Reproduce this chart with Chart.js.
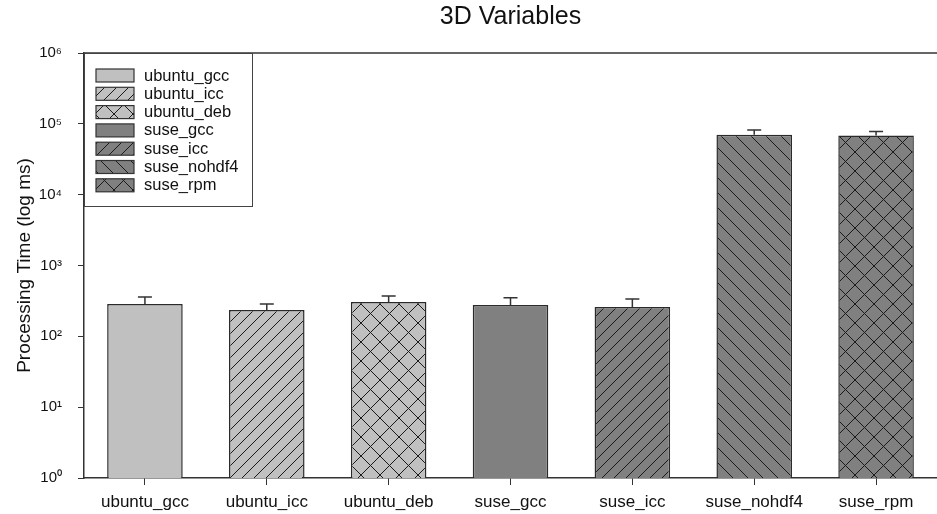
<!DOCTYPE html>
<html>
<head>
<meta charset="utf-8">
<script src="https://cdn.jsdelivr.net/npm/chart.js@4/dist/chart.umd.min.js"></script>
<style>
  html, body { margin: 0; padding: 0; background: #fff; }
  #wrap { width: 937px; height: 514px; }
</style>
</head>
<body>
<div id="wrap"><canvas id="chart"></canvas></div>
<script>
// data
const categories = ['ubuntu_gcc', 'ubuntu_icc', 'ubuntu_deb', 'suse_gcc', 'suse_icc', 'suse_nohdf4', 'suse_rpm'];
const meanTimes = [287, 236, 306, 277, 260, 70000, 68400];
const errorTops = [360, 287, 372, 350, 336, 82000, 77700];
const yTicks = [1, 10, 100, 1000, 10000, 100000, 1000000];
const superscripts = ['⁰', '¹', '²', '³', '⁴', '⁵', '⁶'];

// fill style for each bar: [base colour, hatch kind]
const fills = [
    ['#c0c0c0', 'none'],
    ['#c0c0c0', 'fwd'],
    ['#c0c0c0', 'cross'],
    ['#808080', 'none'],
    ['#808080', 'fwd'],
    ['#808080', 'back'],
    ['#808080', 'cross']
];

function makePattern(color, kind) {
    if (kind === 'none') return color;
    const size = kind === 'cross' ? 19 : (kind === 'back' ? 15 : 12);
    const c = document.createElement('canvas');
    c.width = size;
    c.height = size;
    const g = c.getContext('2d');
    g.fillStyle = color;
    g.fillRect(0, 0, size, size);
    g.strokeStyle = '#1a1a1a';
    g.lineWidth = 1;
    g.beginPath();
    if (kind === 'fwd' || kind === 'cross') {
        g.moveTo(-1, size + 1); g.lineTo(size + 1, -1);
        g.moveTo(-size / 2 - 1, size / 2 + 1); g.lineTo(size / 2 + 1, -size / 2 - 1);
        g.moveTo(size / 2 - 1, size * 1.5 + 1); g.lineTo(size * 1.5 + 1, size / 2 - 1);
    }
    if (kind === 'back' || kind === 'cross') {
        g.moveTo(-1, -1); g.lineTo(size + 1, size + 1);
        g.moveTo(size / 2 - 1, -size / 2 - 1); g.lineTo(size * 1.5 + 1, size / 2 + 1);
        g.moveTo(-size / 2 - 1, size / 2 - 1); g.lineTo(size / 2 + 1, size * 1.5 + 1);
    }
    g.stroke();
    return g.createPattern(c, 'repeat');
}

const patterns = fills.map(f => makePattern(f[0], f[1]));

// error bars: line up from bar top plus a cap
const errorBars = {
    id: 'errorBars',
    afterDatasetsDraw(chart) {
        const ctx = chart.ctx;
        const y = chart.scales.y;
        const meta = chart.getDatasetMeta(0);
        ctx.save();
        ctx.strokeStyle = '#333';
        ctx.lineWidth = 1.5;
        meta.data.forEach((bar, i) => {
            const top = y.getPixelForValue(errorTops[i]);
            ctx.beginPath();
            ctx.moveTo(bar.x, bar.y);
            ctx.lineTo(bar.x, top);
            ctx.moveTo(bar.x - 7, top);
            ctx.lineTo(bar.x + 7, top);
            ctx.stroke();
        });
        ctx.restore();
    }
};

// top frame line and boxed legend in the upper-left corner
const frameLegend = {
    id: 'frameLegend',
    afterDraw(chart) {
        const ctx = chart.ctx;
        const a = chart.chartArea;
        ctx.save();
        ctx.strokeStyle = '#333';
        ctx.lineWidth = 1.5;
        ctx.beginPath();
        ctx.moveTo(a.left, a.top);
        ctx.lineTo(a.right, a.top);
        ctx.stroke();

        const boxW = 168, boxH = 153;
        ctx.fillStyle = '#fff';
        ctx.fillRect(a.left + 1, a.top + 1, boxW - 1, boxH - 1);
        ctx.lineWidth = 1;
        ctx.strokeStyle = '#444';
        ctx.strokeRect(a.left + 0.5, a.top + 0.5, boxW, boxH);

        ctx.font = '16.5px "Liberation Sans", Arial, sans-serif';
        ctx.textBaseline = 'middle';
        categories.forEach((name, i) => {
            const cy = a.top + 22 + i * 18.3;
            ctx.fillStyle = patterns[i];
            ctx.fillRect(a.left + 12, cy - 6, 38, 13);
            ctx.strokeStyle = '#333';
            ctx.lineWidth = 1.2;
            ctx.strokeRect(a.left + 12, cy - 6, 38, 13);
            ctx.fillStyle = '#111';
            ctx.fillText(name, a.left + 60, cy + 1);
        });
        ctx.restore();
    }
};

new Chart(document.getElementById('chart'), {
    type: 'bar',
    data: {
        labels: categories,
        datasets: [{
            data: meanTimes,
            backgroundColor: patterns,
            borderColor: '#2a2a2a',
            borderWidth: 1.5,
            categoryPercentage: 1,
            barPercentage: 0.62
        }]
    },
    options: {
        responsive: true,
        maintainAspectRatio: false,
        animation: false,
        layout: { padding: { left: 0, right: 0, top: 0, bottom: 0 } },
        plugins: {
            legend: { display: false },
            tooltip: { enabled: false },
            title: {
                display: true,
                fullSize: false,
                text: '3D Variables',
                color: '#111',
                font: { family: '"Liberation Sans", Arial, sans-serif', size: 25, weight: 'normal' },
                padding: { top: 2, bottom: 21 }
            }
        },
        scales: {
            x: {
                grid: { drawOnChartArea: false, offset: false, tickLength: 7, color: '#333' },
                border: { color: '#333', width: 1.5 },
                ticks: {
                    color: '#111',
                    padding: 7,
                    maxRotation: 0,
                    font: { family: '"Liberation Sans", Arial, sans-serif', size: 17 }
                },
                afterFit: s => { s.height = 36; }
            },
            y: {
                type: 'logarithmic',
                min: 1,
                max: 1000000,
                afterBuildTicks: s => { s.ticks = yTicks.map(v => ({ value: v })); },
                grid: { drawOnChartArea: false, tickLength: 6, color: '#333' },
                border: { color: '#333', width: 1.5 },
                ticks: {
                    color: '#111',
                    padding: 16,
                    font: { family: '"Liberation Sans", Arial, sans-serif', size: 15 },
                    callback: v => '10' + superscripts[Math.round(Math.log10(v))]
                },
                title: {
                    display: true,
                    text: 'Processing Time (log ms)',
                    color: '#111',
                    font: { family: '"Liberation Sans", Arial, sans-serif', size: 19 },
                    padding: { top: 13, bottom: 0 }
                },
                afterFit: s => { s.width = 84; }
            }
        }
    },
    plugins: [errorBars, frameLegend]
});
</script>
</body>
</html>
